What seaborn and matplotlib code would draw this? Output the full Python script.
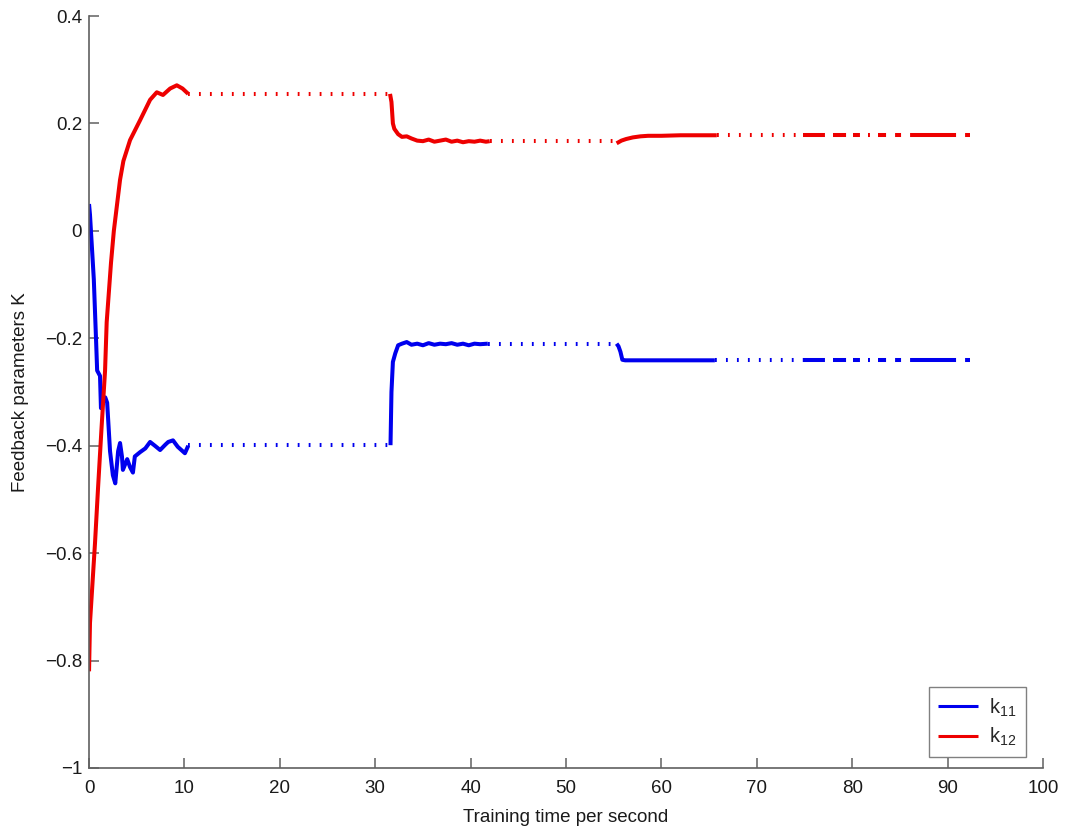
import numpy as np
import pandas as pd
import matplotlib
matplotlib.use("Agg")
import matplotlib.pyplot as plt
import seaborn as sns

# ---- k11: on-line training runs ----
t_k11_run1 = [0, 0.1, 0.5, 0.75, 0.85, 1.0, 1.15, 1.25, 1.45, 1.7, 1.9, 2.2, 2.5, 2.75,
              3.05, 3.25, 3.45, 3.55, 4.0, 4.3, 4.6, 4.8, 5.35, 5.9, 6.4, 6.9, 7.45,
              8.0, 8.3, 8.8, 9.3, 10.05, 10.4]
k11_run1 = [0.05, 0.03, -0.09, -0.21, -0.26, -0.265, -0.27, -0.33, -0.32, -0.31, -0.32,
            -0.41, -0.455, -0.47, -0.41, -0.395, -0.42, -0.445, -0.425, -0.44, -0.45,
            -0.42, -0.412, -0.405, -0.393, -0.40, -0.408, -0.398, -0.393, -0.39,
            -0.402, -0.414, -0.40]
t_k11_run2 = [31.6, 31.7, 31.85, 32.1, 32.4, 32.8, 33.3, 33.8, 34.4, 35.0, 35.6, 36.2,
              36.8, 37.4, 38.0, 38.6, 39.2, 39.8, 40.4, 41.0, 41.8]
k11_run2 = [-0.399, -0.30, -0.244, -0.228, -0.213, -0.21, -0.207, -0.212, -0.21, -0.213,
            -0.209, -0.212, -0.21, -0.211, -0.209, -0.212, -0.21, -0.213, -0.21, -0.211,
            -0.21]
t_k11_run3 = [55.3, 55.5, 55.7, 55.9, 56.2, 58.0, 60.0, 62.0, 64.0, 65.6]
k11_run3 = [-0.21, -0.215, -0.225, -0.24, -0.241, -0.241, -0.241, -0.241, -0.241, -0.241]

# ---- k12: on-line training runs ----
t_k12_run1 = [0, 0.1, 0.63, 0.94, 1.3, 1.68, 1.85, 2.3, 2.6, 3.25, 3.6, 4.3, 5.35, 6.4,
              7.1, 7.75, 8.5, 9.2, 9.8, 10.4]
k12_run1 = [-0.82, -0.73, -0.58, -0.48, -0.37, -0.26, -0.17, -0.06, 0.0, 0.095, 0.13,
            0.169, 0.206, 0.244, 0.258, 0.253, 0.265, 0.271, 0.265, 0.255]
t_k12_run2 = [31.55, 31.7, 31.85, 32.0, 32.4, 32.8, 33.3, 33.8, 34.4, 35.0, 35.6, 36.2,
              36.8, 37.4, 38.0, 38.6, 39.2, 39.8, 40.4, 41.0, 41.6, 42.0]
k12_run2 = [0.255, 0.24, 0.20, 0.19, 0.18, 0.175, 0.176, 0.172, 0.168, 0.167, 0.17,
            0.166, 0.168, 0.17, 0.166, 0.168, 0.165, 0.167, 0.166, 0.168, 0.166, 0.167]
t_k12_run3 = [55.3, 55.5, 55.8, 56.3, 57.0, 57.8, 58.6, 60.0, 62.0, 64.0, 65.8]
k12_run3 = [0.163, 0.165, 0.168, 0.171, 0.174, 0.176, 0.177, 0.177, 0.178, 0.178, 0.178]

# ---- held (frozen) parameter intervals ----
hold_k11 = [(10.4, 31.6, -0.399), (41.8, 55.3, -0.21), (65.6, 74.8, -0.241)]
hold_k12 = [(10.4, 31.55, 0.255), (42.0, 55.3, 0.167), (65.8, 74.8, 0.178)]
final_k11 = (74.8, 92.3, -0.241)
final_k12 = (74.8, 92.3, 0.178)

y_ticks = [-1, -0.8, -0.6, -0.4, -0.2, 0, 0.2, 0.4]
y_tick_labels = ["\u22121", "\u22120.8", "\u22120.6", "\u22120.4", "\u22120.2", "0", "0.2", "0.4"]
x_ticks = list(range(0, 101, 10))

BLUE = "#0000ee"
RED = "#ee0000"
AXIS_GREY = "#606060"

sns.set_style("white")
plt.rcParams["font.family"] = ["Liberation Sans", "DejaVu Sans"]
plt.rcParams["mathtext.fontset"] = "custom"
plt.rcParams["mathtext.rm"] = "Liberation Sans"
plt.rcParams["lines.scale_dashes"] = False
plt.rcParams["lines.solid_capstyle"] = "butt"

fig = plt.figure(figsize=(10.65, 8.3), dpi=100)
ax = fig.add_axes([0.0836, 0.0747, 0.8958, 0.906])

LW = 2.9
dotted = (0, (1.3, 6.6))
dashed_tail = (0, (15.8, 5.8, 9.4, 5.0, 5.0, 5.8, 1.4, 5.8, 5.8, 6.5, 4.3, 6.5, 33.1, 6.5, 5.8, 2.0))


def draw_series(runs, holds, final, color, label):
    for i, (t, v) in enumerate(runs):
        sns.lineplot(x=t, y=v, ax=ax, color=color, linewidth=LW, sort=False,
                     estimator=None, label=label if i == 0 else None)
    for t0, t1, v in holds:
        sns.lineplot(x=[t0, t1], y=[v, v], ax=ax, color=color, linewidth=LW,
                     sort=False, estimator=None, linestyle=dotted)
    t0, t1, v = final
    sns.lineplot(x=[t0, t1], y=[v, v], ax=ax, color=color, linewidth=LW,
                 sort=False, estimator=None, linestyle=dashed_tail)


draw_series([(t_k11_run1, k11_run1), (t_k11_run2, k11_run2), (t_k11_run3, k11_run3)],
            hold_k11, final_k11, BLUE, r"$\mathregular{k_{11}}$")
draw_series([(t_k12_run1, k12_run1), (t_k12_run2, k12_run2), (t_k12_run3, k12_run3)],
            hold_k12, final_k12, RED, r"$\mathregular{k_{12}}$")

ax.set_xlim(0, 100)
ax.set_ylim(-1, 0.4)
ax.set_xticks(x_ticks)
ax.set_yticks(y_ticks)
ax.set_yticklabels(y_tick_labels)

for side in ("top", "right"):
    ax.spines[side].set_visible(False)
for side in ("left", "bottom"):
    ax.spines[side].set_color(AXIS_GREY)
    ax.spines[side].set_linewidth(1.2)

ax.tick_params(axis="both", bottom=True, left=True, direction="in", length=7,
               width=1.1, color=AXIS_GREY, labelsize=13.5, labelcolor="#1a1a1a")
ax.tick_params(axis="x", pad=9)
ax.tick_params(axis="y", pad=5)

ax.set_xlabel("Training time per second", fontsize=13.5, color="#1a1a1a")
ax.set_ylabel("Feedback parameters K", fontsize=13.5, color="#1a1a1a")
ax.xaxis.set_label_coords(0.5, -0.054)
ax.yaxis.set_label_coords(-0.063, 0.5)

leg = ax.legend(loc="lower right", bbox_to_anchor=(0.982, 0.0146), borderaxespad=0,
                fontsize=14.5, frameon=True, fancybox=False, edgecolor=AXIS_GREY,
                handlelength=2.0, handletextpad=0.55, borderpad=0.45, labelspacing=0.35)
leg.get_frame().set_linewidth(1.0)
for line in leg.get_lines():
    line.set_linewidth(2.2)
    line.set_linestyle("-")

fig.savefig("out.png", dpi=100, facecolor="white")
